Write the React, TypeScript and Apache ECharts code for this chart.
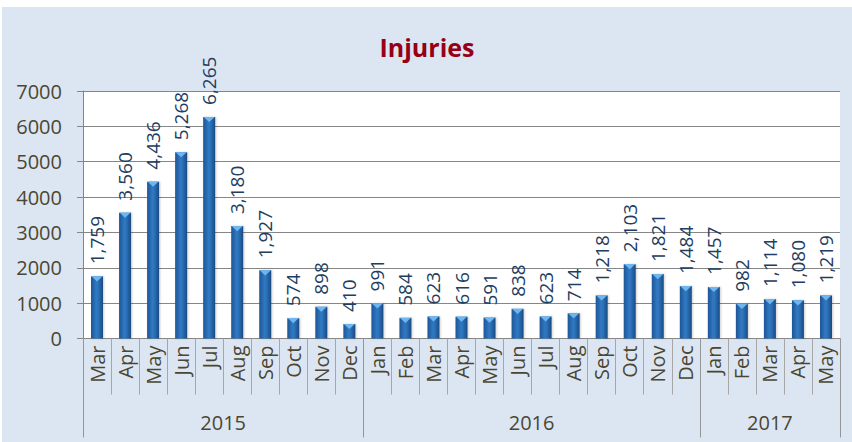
import React, { useEffect, useRef } from "react";
import * as echarts from "echarts";

const months = [
  "Mar", "Apr", "May", "Jun", "Jul", "Aug", "Sep", "Oct", "Nov", "Dec",
  "Jan", "Feb", "Mar", "Apr", "May", "Jun", "Jul", "Aug", "Sep", "Oct", "Nov", "Dec",
  "Jan", "Feb", "Mar", "Apr", "May",
];
const injuries = [
  1759, 3560, 4436, 5268, 6265, 3180, 1927, 574, 898, 410,
  991, 584, 623, 616, 591, 838, 623, 714, 1218, 2103, 1821, 1484,
  1457, 982, 1114, 1080, 1219,
];
const years = ["2015", "2016", "2017"];
const monthsPerYear = [10, 12, 5];
const yMin = 0;
const yMax = 7000;
const yInterval = 1000;

const FONT = "'Open Sans', 'Noto Sans', sans-serif";
const TXT = "#4b4634";

export default function App() {
  const ref = useRef<HTMLDivElement>(null);
  useEffect(() => {
    if (!ref.current) return;
    const chart = echarts.init(ref.current, undefined, { renderer: "svg" });

    const bounds: number[] = [0];
    monthsPerYear.forEach((n) => bounds.push(bounds[bounds.length - 1] + n));
    const centers = years.map((_, i) => (bounds[i] + bounds[i + 1]) / 2);

    chart.setOption({
      animation: false,
      backgroundColor: "transparent",
      title: {
        text: "Injuries",
        left: "center",
        top: 22,
        textStyle: { fontFamily: FONT, fontSize: 25, fontWeight: "bold", color: "#970014" },
      },
      grid: {
        left: 81,
        right: 12,
        top: 84,
        bottom: 103.5,
        show: true,
        backgroundColor: "#ffffff",
        borderWidth: 0,
      },
      xAxis: [
        {
          type: "category",
          data: months,
          boundaryGap: true,
          axisLine: { show: true, lineStyle: { color: "#868686", width: 1 } },
          axisTick: { show: true, interval: 0, length: 56, lineStyle: { color: "#a6a6a6" } },
          axisLabel: {
            interval: 0,
            rotate: 90,
            margin: 7,
            fontFamily: FONT,
            fontSize: 20,
            color: TXT,
          },
        },
        {
          type: "value",
          min: 0,
          max: months.length,
          position: "bottom",
          axisLine: { show: false },
          splitLine: { show: false },
          axisTick: {
            show: true,
            customValues: bounds,
            length: 99,
            lineStyle: { color: "#969696" },
          },
          axisLabel: {
            customValues: centers,
            margin: 74,
            fontFamily: FONT,
            fontSize: 20,
            color: TXT,
            formatter: (v: number) => {
              const i = centers.findIndex((c) => Math.abs(c - v) < 1e-6);
              return i >= 0 ? years[i] : "";
            },
          },
        },
      ],
      yAxis: {
        type: "value",
        min: yMin,
        max: yMax,
        interval: yInterval,
        axisLine: { show: true, lineStyle: { color: "#868686" } },
        axisTick: { show: true, length: 6, lineStyle: { color: "#868686" } },
        splitLine: { show: true, lineStyle: { color: "#868686", width: 1 } },
        axisLabel: {
          margin: 21,
          fontFamily: FONT,
          fontSize: 20,
          color: TXT,
          formatter: (v: number) => String(v),
        },
      },
      series: [
        {
          type: "bar",
          data: injuries,
          barWidth: 12,
          itemStyle: {
            color: new echarts.graphic.LinearGradient(0, 0, 1, 0, [
              { offset: 0, color: "#1f5596" },
              { offset: 0.45, color: "#3079c3" },
              { offset: 0.6, color: "#2c72b9" },
              { offset: 1, color: "#1b4a82" },
            ]),
            shadowColor: "rgba(0,0,0,0.2)",
            shadowBlur: 2,
            shadowOffsetX: 1,
          },
          label: {
            show: true,
            position: "top",
            rotate: 90,
            align: "left",
            verticalAlign: "middle",
            distance: 12,
            fontFamily: FONT,
            fontSize: 19,
            color: "#213d61",
            formatter: (p: any) => Number(p.value).toLocaleString("en-US"),
          },
        },
        {
          type: "pictorialBar",
          data: injuries,
          silent: true,
          symbol: "path://M0,0L10,0L5,5Z",
          symbolSize: [11, 5],
          symbolPosition: "end",
          symbolOffset: [0, 0],
          barWidth: 12,
          z: 3,
          itemStyle: { color: "#6fb6ef" },
        },
      ],
    });
    return () => chart.dispose();
  }, []);

  return (
    <div style={{ position: "fixed", left: 0, top: 0, width: 852, height: 442, background: "#ffffff" }}>
      <div
        ref={ref}
        style={{ position: "absolute", left: 2, top: 7, width: 850, height: 435, background: "#dce6f2" }}
      />
    </div>
  );
}
